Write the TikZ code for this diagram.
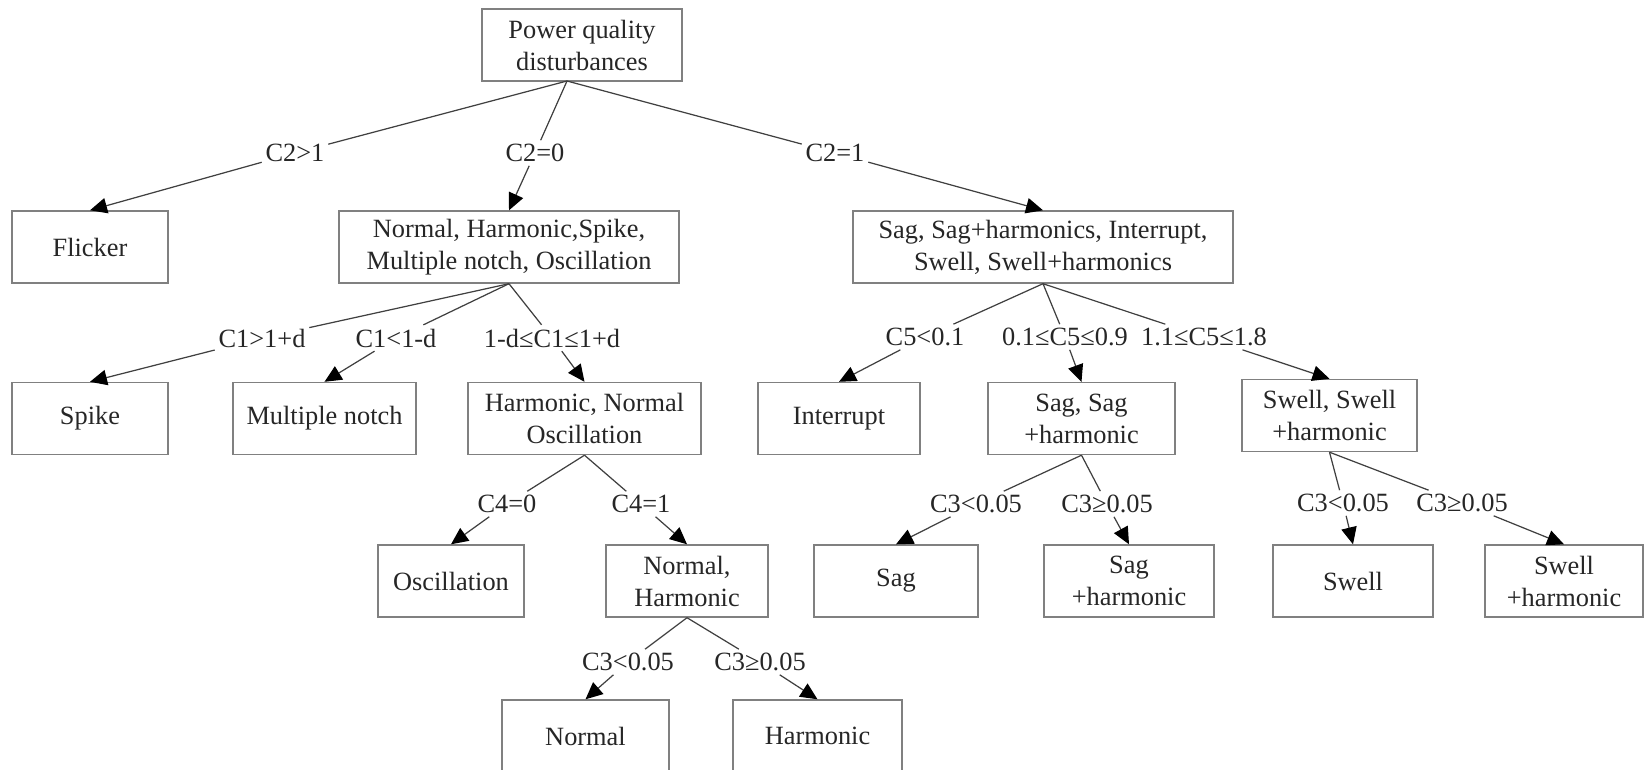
\documentclass[tikz,border=0pt]{standalone}
\usepackage{fontspec}
\setmainfont{Liberation Serif}
\usetikzlibrary{arrows.meta}

\begin{document}
\begin{tikzpicture}[x=0.2mm, y=-0.2mm,
    pqBox/.style={draw=black!50, line width=0.8pt, minimum height=14.4mm, align=center, inner sep=1pt, text=black!85, font=\fontsize{15}{18.2}\selectfont},
    pqCond/.style={inner sep=2pt, text=black!85, font=\fontsize{15}{18.2}\selectfont},
    pqLine/.style={draw=black!75, line width=0.7pt},
    pqArrow/.style={pqLine, -{Triangle[length=3.4mm, width=3.1mm, color=black]}}]

    \useasboundingbox (0,0) rectangle (1645,769);
    \clip (0,0) rectangle (1645,769);

    % Root and first split
    \node[pqBox, minimum width=40mm] (pqRoot) at (582, 45) {Power quality\\disturbances};
    \coordinate (pqRootFoot) at (567, 81);
    \node[pqBox, minimum width=31.2mm] (pqFlicker) at (90, 247) {Flicker};
    \node[pqBox, minimum width=68mm] (pqMixA) at (509, 247) {Normal, Harmonic,Spike,\\Multiple notch, Oscillation};
    \node[pqBox, minimum width=76mm] (pqMixB) at (1043, 247) {Sag, Sag+harmonics, Interrupt,\\Swell, Swell+harmonics};

    % Second level
    \node[pqBox, minimum width=31.2mm] (pqSpike) at (90, 418.5) {Spike};
    \node[pqBox, minimum width=36.6mm] (pqNotch) at (324.5, 418.5) {Multiple notch};
    \node[pqBox, minimum width=46.6mm] (pqHarmOsc) at (584.5, 418.5) {Harmonic, Normal\\Oscillation};
    \node[pqBox, minimum width=32.4mm] (pqInterrupt) at (839, 418.5) {Interrupt};
    \node[pqBox, minimum width=37.4mm] (pqSagSet) at (1081.5, 418.5) {Sag, Sag\\+harmonic};
    \node[pqBox, minimum width=35mm] (pqSwellSet) at (1329.5, 415.5) {Swell, Swell\\+harmonic};

    % Third level
    \node[pqBox, minimum width=29.2mm] (pqOsc) at (451, 581) {Oscillation};
    \node[pqBox, minimum width=32.4mm] (pqNormHarm) at (687, 581) {Normal,\\Harmonic};
    \node[pqBox, minimum width=32.8mm] (pqSag) at (896, 581) {Sag};
    \node[pqBox, minimum width=34mm] (pqSagHarm) at (1129, 581) {Sag\\+harmonic};
    \node[pqBox, minimum width=32mm] (pqSwell) at (1353, 581) {Swell};
    \node[pqBox, minimum width=31.6mm] (pqSwellHarm) at (1564, 581) {Swell\\+harmonic};

    % Fourth level
    \node[pqBox, minimum width=33.4mm] (pqNormal) at (585.5, 736) {Normal};
    \node[pqBox, minimum width=33.8mm] (pqHarmonic) at (817.5, 736) {Harmonic};

    % Conditions
    \node[pqCond] (c2gt) at (295, 153) {C2>1};
    \node[pqCond] (c2zero) at (535, 153) {C2=0};
    \node[pqCond] (c2one) at (835, 153) {C2=1};
    \node[pqCond] (c1gt) at (262, 338) {C1>1+d};
    \node[pqCond] (c1lt) at (396, 338) {C1<1-d};
    \node[pqCond] (c1in) at (552, 338) {1-d≤C1≤1+d};
    \node[pqCond] (c5low) at (925, 337) {C5<0.1};
    \node[pqCond] (c5mid) at (1065, 337) {0.1≤C5≤0.9};
    \node[pqCond] (c5high) at (1204, 337) {1.1≤C5≤1.8};
    \node[pqCond] (c4zero) at (507, 504) {C4=0};
    \node[pqCond] (c4one) at (641, 504) {C4=1};
    \node[pqCond] (c3sagLo) at (976, 504) {C3<0.05};
    \node[pqCond] (c3sagHi) at (1107, 504) {C3≥0.05};
    \node[pqCond] (c3swLo) at (1343, 503) {C3<0.05};
    \node[pqCond] (c3swHi) at (1462, 503) {C3≥0.05};
    \node[pqCond] (c3nhLo) at (628, 662) {C3<0.05};
    \node[pqCond] (c3nhHi) at (760, 662) {C3≥0.05};

    % Edges
    \draw[pqLine] (pqRootFoot) -- (c2gt);
    \draw[pqArrow] (c2gt) -- (pqFlicker.north);
    \draw[pqLine] (pqRootFoot) -- (c2zero);
    \draw[pqArrow] (c2zero) -- (pqMixA.north);
    \draw[pqLine] (pqRootFoot) -- (c2one);
    \draw[pqArrow] (c2one) -- (pqMixB.north);

    \draw[pqLine] (pqMixA.south) -- (c1gt);
    \draw[pqArrow] (c1gt) -- (pqSpike.north);
    \draw[pqLine] (pqMixA.south) -- (c1lt);
    \draw[pqArrow] (c1lt) -- (pqNotch.north);
    \draw[pqLine] (pqMixA.south) -- (c1in);
    \draw[pqArrow] (c1in) -- (pqHarmOsc.north);

    \draw[pqLine] (pqMixB.south) -- (c5low);
    \draw[pqArrow] (c5low) -- (pqInterrupt.north);
    \draw[pqLine] (pqMixB.south) -- (c5mid);
    \draw[pqArrow] (c5mid) -- (pqSagSet.north);
    \draw[pqLine] (pqMixB.south) -- (c5high);
    \draw[pqArrow] (c5high) -- (pqSwellSet.north);

    \draw[pqLine] (pqHarmOsc.south) -- (c4zero);
    \draw[pqArrow] (c4zero) -- (pqOsc.north);
    \draw[pqLine] (pqHarmOsc.south) -- (c4one);
    \draw[pqArrow] (c4one) -- (pqNormHarm.north);

    \draw[pqLine] (pqSagSet.south) -- (c3sagLo);
    \draw[pqArrow] (c3sagLo) -- (pqSag.north);
    \draw[pqLine] (pqSagSet.south) -- (c3sagHi);
    \draw[pqArrow] (c3sagHi) -- (pqSagHarm.north);

    \draw[pqLine] (pqSwellSet.south) -- (c3swLo);
    \draw[pqArrow] (c3swLo) -- (pqSwell.north);
    \draw[pqLine] (pqSwellSet.south) -- (c3swHi);
    \draw[pqArrow] (c3swHi) -- (pqSwellHarm.north);

    \draw[pqLine] (pqNormHarm.south) -- (c3nhLo);
    \draw[pqArrow] (c3nhLo) -- (pqNormal.north);
    \draw[pqLine] (pqNormHarm.south) -- (c3nhHi);
    \draw[pqArrow] (c3nhHi) -- (pqHarmonic.north);
\end{tikzpicture}
\end{document}
